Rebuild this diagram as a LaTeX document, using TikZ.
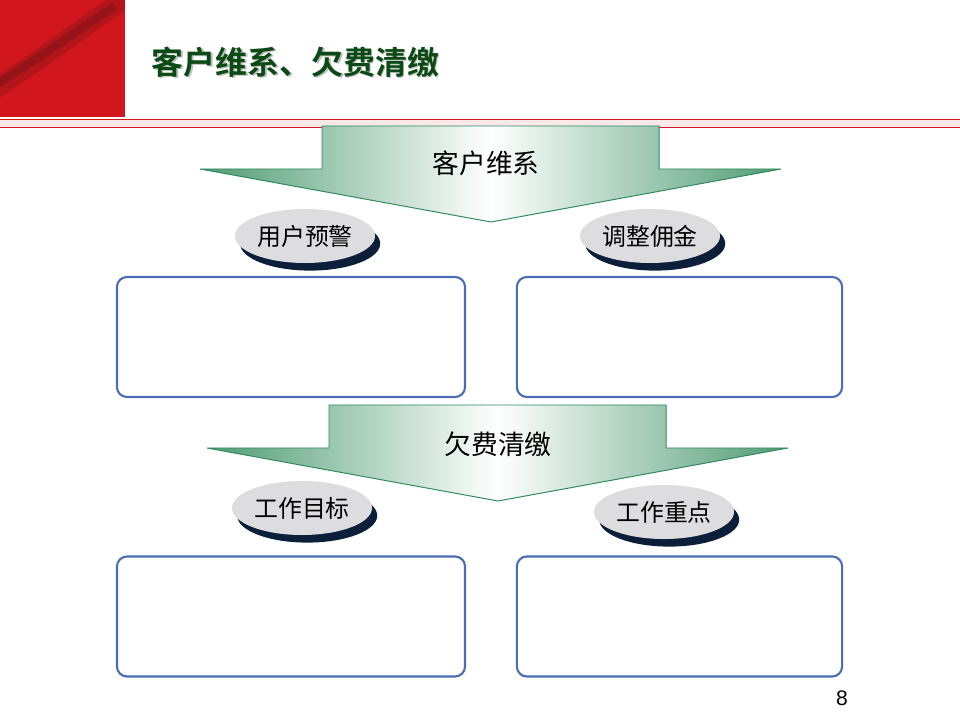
\documentclass[tikz,border=0pt]{standalone}
\usepackage{fontspec}
\usepackage{xcolor}
\usepackage{tikz}
\usetikzlibrary{shapes.geometric,shadows,calc}
\newfontfamily\cjk{Noto Sans CJK SC}
\newfontfamily\cjktitle{Noto Sans CJK SC}[BoldFont={Noto Sans CJK SC Bold}]
\newfontfamily\arial{Liberation Sans}
\definecolor{slidered}{HTML}{D2161E}
\definecolor{streakred}{HTML}{7A1418}
\definecolor{bandpink}{HTML}{FBE8E8}
\definecolor{titlegreen}{HTML}{0B4A14}
\definecolor{arrowgreen}{HTML}{4F9B73}
\definecolor{arrowline}{HTML}{2E8B60}
\definecolor{boxblue}{HTML}{4A6DB3}
\definecolor{ovalgrey}{HTML}{DDDDDF}
\definecolor{ovalshadow}{HTML}{0B1E3A}

\tikzset{
  oval/.style={ellipse,fill=ovalgrey,minimum width=3.5cm,minimum height=1.35cm,
    inner sep=0pt,font=\cjk\fontsize{17}{17}\selectfont,
    drop shadow={shadow xshift=0.13cm,shadow yshift=-0.19cm,fill=ovalshadow,opacity=1}},
  panel/.style={draw=boxblue,line width=1.5pt,rounded corners=0.25cm,
    minimum height=3cm,inner sep=0pt},
  arrowtext/.style={font=\cjk\fontsize{19}{19}\selectfont}
}

\begin{document}
\begin{tikzpicture}[x=0.025cm,y=-0.025cm]
  \useasboundingbox (0,0) rectangle (960,720);
  % Kopf
  \fill[slidered] (0,0) rectangle (125,117);
  \begin{scope}
    \clip (0,0) rectangle (125,117);
    \draw[streakred,line width=14pt,opacity=0.35,line cap=round]
      (-10,92) .. controls (40,60) and (80,30) .. (120,2);
    \draw[streakred,line width=6pt,opacity=0.5,line cap=round]
      (-10,88) .. controls (40,58) and (75,32) .. (112,8);
  \end{scope}
  \fill[bandpink] (0,119) rectangle (960,127);
  \draw[slidered,line width=0.7pt] (0,119) -- (960,119);
  \draw[slidered,line width=0.7pt] (0,127) -- (960,127);
  \node[anchor=west,text=black!25,font=\cjktitle\bfseries\fontsize{22.7}{22.7}\selectfont]
    (titleshadow) at (148.5,63.5) {客户维系、欠费清缴};
  \node[anchor=west,text=titlegreen,font=\cjktitle\bfseries\fontsize{22.7}{22.7}\selectfont]
    (title) at (147,62) {客户维系、欠费清缴};
  % Pfeile
  \foreach \dx/\dy in {0/0,7/279} {
    \begin{scope}[shift={(\dx,\dy)}]
      \shade[left color=arrowgreen,right color=arrowgreen,middle color=white]
        (322,126) -- (659,126) -- (659,169) -- (781,169) -- (491,222)
        -- (200,169) -- (322,169) -- cycle;
      \draw[arrowline,line width=0.7pt]
        (322,126) -- (659,126) -- (659,169) -- (781,169) -- (491,222)
        -- (200,169) -- (322,169) -- cycle;
    \end{scope}
  }
  \node[arrowtext] (weixi) at (486,163) {客户维系};
  \node[arrowtext] (qingjiao) at (498,444) {欠费清缴};
  % Ovale
  \node[oval] (yujing) at (305,236) {用户预警};
  \node[oval] (yongjin) at (650,236) {调整佣金};
  \node[oval] (mubiao) at (302,508) {工作目标};
  \node[oval] (zhongdian) at (664,512) {工作重点};
  % Kaesten
  \node[panel,minimum width=8.7cm] (yujingbox) at (291,337) {};
  \node[panel,minimum width=8.13cm] (yongjinbox) at (679.5,337) {};
  \node[panel,minimum width=8.7cm] (mubiaobox) at (291,616.5) {};
  \node[panel,minimum width=8.13cm] (zhongdianbox) at (679.5,616.5) {};
  % Seite
  \node[font=\arial\fontsize{15}{15}\selectfont] (seite) at (842,698) {8};
\end{tikzpicture}
\end{document}
